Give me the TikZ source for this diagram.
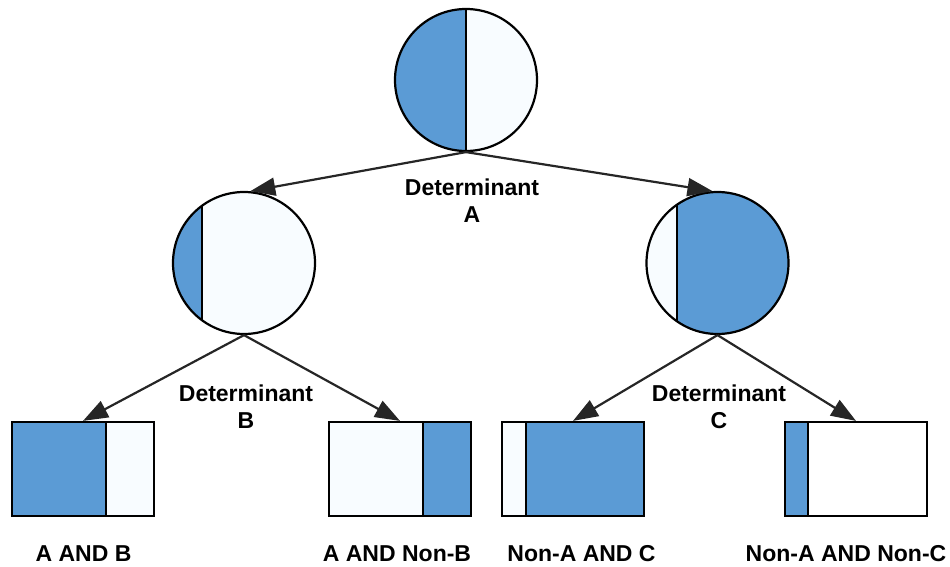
\documentclass[tikz,border=0pt]{standalone}
\usepackage{fontspec}
\setmainfont{Liberation Sans}
\usetikzlibrary{arrows.meta}
\definecolor{partblue}{HTML}{5B9BD5}
\definecolor{paleblue}{HTML}{F8FCFF}

% split disc: name, centre, divider x-offset, left fill, right fill
\newcommand\splitdisc[5]{%
  \begin{scope}[shift={(#2)}]
    \clip (0,0) circle (71pt);
    \fill[#4] (-80,-80) rectangle (#3,80);
    \fill[#5] (#3,-80) rectangle (80,80);
    \draw[outline] (#3,-80) -- (#3,80);
  \end{scope}
  \node[setcircle] (#1) at (#2) {};
}
% split box: name, centre, divider x-offset, left fill, right fill
\newcommand\splitbox[5]{%
  \begin{scope}[shift={(#2)}]
    \fill[#4] (-71,-47) rectangle (#3,47);
    \fill[#5] (#3,-47) rectangle (71,47);
    \draw[outline] (#3,-47) -- (#3,47);
  \end{scope}
  \node[setbox] (#1) at (#2) {};
}

\begin{document}
\begin{tikzpicture}[x=1pt,y=-1pt,
  outline/.style={draw=black,line width=2.2pt},
  setcircle/.style={circle,outline,minimum size=142pt,inner sep=0pt},
  setbox/.style={rectangle,outline,minimum width=142pt,minimum height=94pt,inner sep=0pt},
  link/.style={draw=black!85,line width=2.2pt,-{Triangle[length=25pt,width=18pt]}},
  caption/.style={font=\bfseries\fontsize{23}{27}\selectfont,align=center,inner sep=0pt}]
\useasboundingbox (0,0) rectangle (950,567);

% circles
\splitdisc{ca}{466,80}{0}{partblue}{paleblue}
\splitdisc{cb}{244,263}{-42}{partblue}{paleblue}
\splitdisc{cc}{717.5,263}{-40.5}{paleblue}{partblue}

% outcome boxes
\splitbox{b1}{83,469}{23}{partblue}{paleblue}
\splitbox{b2}{400,469}{23}{paleblue}{partblue}
\splitbox{b3}{573,469}{-47}{paleblue}{partblue}
\splitbox{b4}{856,469}{-48}{partblue}{white}

% connectors
\draw[link] (ca.south) -- (cb.85);
\draw[link] (ca.south) -- (cc.94);
\draw[link] (cb.south) -- (b1.north);
\draw[link] (cb.south) -- (b2.north);
\draw[link] (cc.south) -- (b3.north);
\draw[link] (cc.south) -- (b4.north);

% labels
\node[caption] (la) at (472,201) {Determinant\\A};
\node[caption] (lb) at (246,407) {Determinant\\B};
\node[caption] (lc) at (719,407) {Determinant\\C};
\node[caption] (t1) at (83.5,554) {A AND B};
\node[caption] (t2) at (397,554) {A AND Non-B};
\node[caption] (t3) at (581.5,554) {Non-A AND C};
\node[caption] (t4) at (846,554) {Non-A AND Non-C};
\end{tikzpicture}
\end{document}
